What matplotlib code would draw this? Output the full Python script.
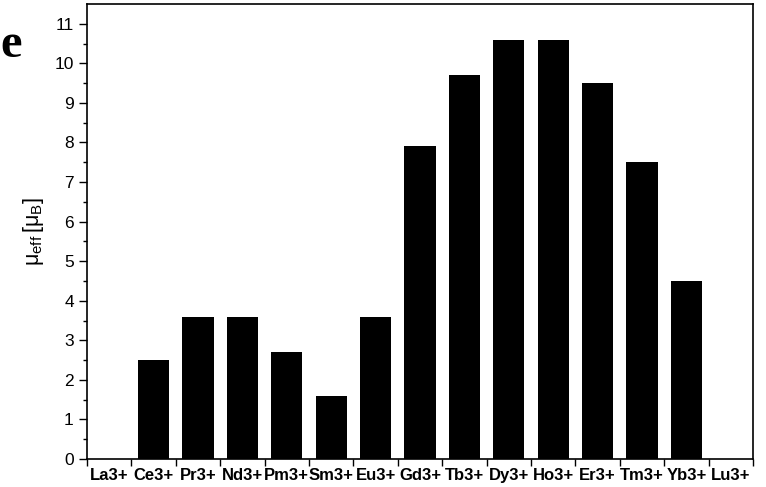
import matplotlib
matplotlib.use('Agg')
import matplotlib.pyplot as plt
import numpy as np

plt.rcParams['font.family'] = ['Liberation Sans', 'DejaVu Sans']

# Data
ions = ['La3+', 'Ce3+', 'Pr3+', 'Nd3+', 'Pm3+', 'Sm3+', 'Eu3+', 'Gd3+',
        'Tb3+', 'Dy3+', 'Ho3+', 'Er3+', 'Tm3+', 'Yb3+', 'Lu3+']
mu_eff = [0, 2.5, 3.6, 3.6, 2.7, 1.6, 3.6, 7.9, 9.7, 10.6, 10.6, 9.5, 7.5, 4.5, 0]

fig = plt.figure(figsize=(7.66, 4.87), dpi=100)
ax = fig.add_axes([0.1136, 0.0575, 0.8694, 0.9343])

x = np.arange(len(ions))
ax.bar(x, mu_eff, width=0.7, color='black')

ax.set_xlim(-0.5, len(ions) - 0.5)
ax.set_ylim(0, 11.5)

# ticks at category edges, labels at centres
ax.set_xticks(np.arange(-0.5, len(ions), 1.0))
ax.set_xticklabels([])
ax.set_xticks(x, minor=True)
ax.set_xticklabels(ions, minor=True, fontweight='bold', fontsize=12)
ax.tick_params(axis='x', which='major', direction='out', length=5, width=1)
ax.tick_params(axis='x', which='minor', length=0, pad=6.5)

ax.set_yticks(np.arange(0, 12, 1))
ax.set_yticks(np.arange(0.5, 11.5, 1), minor=True)
ax.tick_params(axis='y', which='major', direction='out', length=6, width=1, labelsize=12.5)
ax.tick_params(axis='y', which='minor', direction='out', length=3, width=1)

for s in ax.spines.values():
    s.set_linewidth(1.2)

ax.set_ylabel(r'$\mathregular{\mu_{eff}\,[\mu_B]}$', fontsize=15.5, labelpad=6)

fig.text(0.0, 0.883, 'e', fontsize=35, fontweight='bold', family='Liberation Serif')

fig.savefig('out.png', dpi=100)
